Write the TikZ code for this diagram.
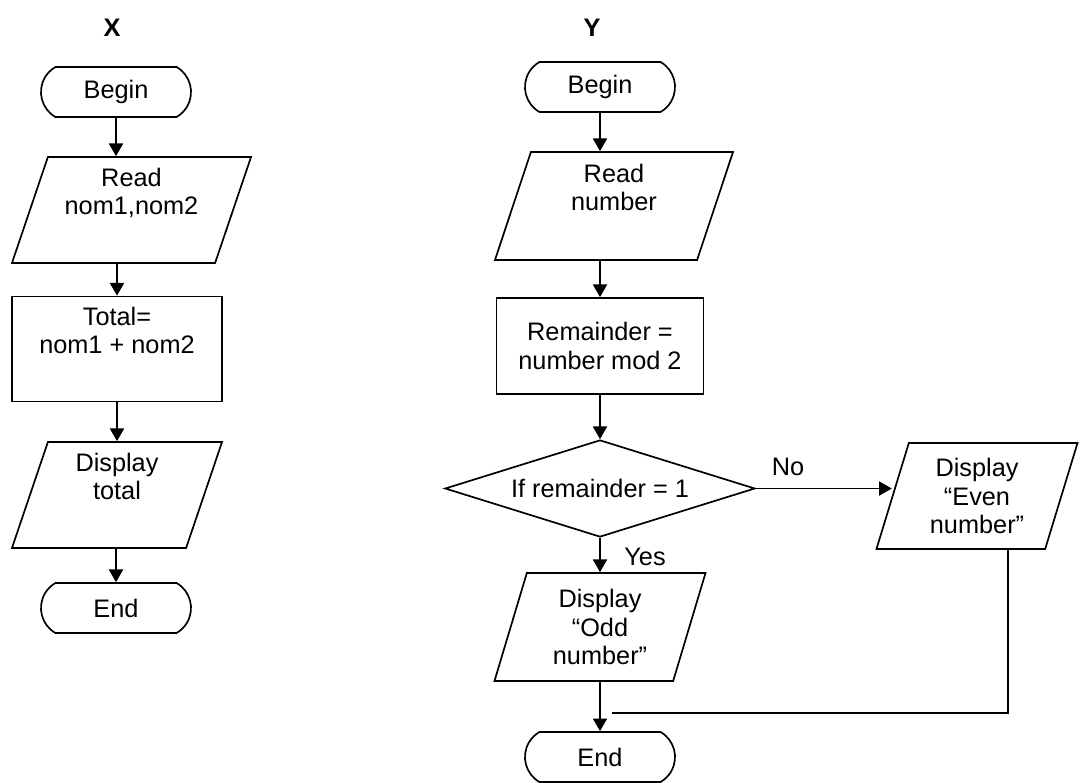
\documentclass[tikz,border=0pt]{standalone}
\usepackage{fontspec}
\setmainfont{Liberation Sans}
\usetikzlibrary{shapes.geometric,shapes.misc,arrows.meta}
\tikzset{
	every node/.style={font=\fontsize{18}{20.5}\selectfont},
	term/.style={draw,rounded rectangle,rounded rectangle arc length=120,minimum width=3.75cm,minimum height=1.25cm,inner sep=0pt},
	io/.style={draw,trapezium,trapezium left angle=67,trapezium right angle=113,trapezium stretches body,align=center,inner sep=0pt,minimum height=2.65cm},
	proc/.style={draw,rectangle,align=center,inner sep=0pt},
	dec/.style={draw,diamond,aspect=3,inner sep=0pt,minimum width=7.75cm,minimum height=2.425cm},
	flow/.style={-{Triangle[length=9pt,width=10pt]}},
	title/.style={font=\fontsize{18}{20.5}\selectfont\bfseries}
}
\begin{document}
\begin{tikzpicture}[x=0.025cm,y=-0.025cm,line width=1.2pt]
	\useasboundingbox (0,0) rectangle (1081,783);
%	flowchart X
	\node[title] (labx) at (112,28) {X};
	\node[term] (begx) at (116,92) {Begin};
	\node[io,minimum width=5.975cm] (readx) at (131.5,210) {Read\\nom1,nom2\\\strut};
	\node[proc,minimum width=5.25cm,minimum height=2.625cm] (totx) at (117,349) {Total=\\nom1 + nom2\\\strut};
	\node[io,minimum width=5.25cm] (dispx) at (117,495) {Display\\total\\\strut};
	\node[term] (endx) at (116,608) {End};
	\draw[flow] (begx.south) -- (begx.south |- readx.north);
	\draw[flow] (totx.north |- readx.south) -- (totx.north);
	\draw[flow] (totx.south) -- (totx.south |- dispx.north);
	\draw[flow] (endx.north |- dispx.south) -- (endx.north);
%	flowchart Y
	\node[title] (laby) at (592,28) {Y};
	\node[term] (begy) at (600,87) {Begin};
	\node[io,minimum width=5.95cm,minimum height=2.7cm] (ready) at (614,206) {Read\\number\\\strut};
	\node[proc,minimum width=5.175cm,minimum height=2.4cm] (remy) at (600,346) {Remainder =\\number mod 2};
	\node[dec] (decy) at (600,488.5) {If remainder = 1};
	\node[io,minimum width=5.025cm] (evny) at (977,496) {Display\\“Even\\number”};
	\node[io,minimum width=5.275cm,minimum height=2.7cm] (oddy) at (600,627) {Display\\“Odd\\number”};
	\node[term] (endy) at (600,757) {End};
	\node (no) at (788,467) {No};
	\node (yes) at (645,557) {Yes};
	\coordinate (joinr) at (1008,713);
	\coordinate (joinl) at (612,713);
	\draw[flow] (begy.south) -- (begy.south |- ready.north);
	\draw[flow] (remy.north |- ready.south) -- (remy.north);
	\draw[flow] (remy.south) -- (decy.north);
	\draw[flow] (decy.east) -- (decy.east -| evny.west);
	\draw[flow] (decy.south) -- (decy.south |- oddy.north);
	\draw[flow] (endy.north |- oddy.south) -- (endy.north);
	\draw (evny.south -| joinr) -- (joinr) -- (joinl);
\end{tikzpicture}
\end{document}
